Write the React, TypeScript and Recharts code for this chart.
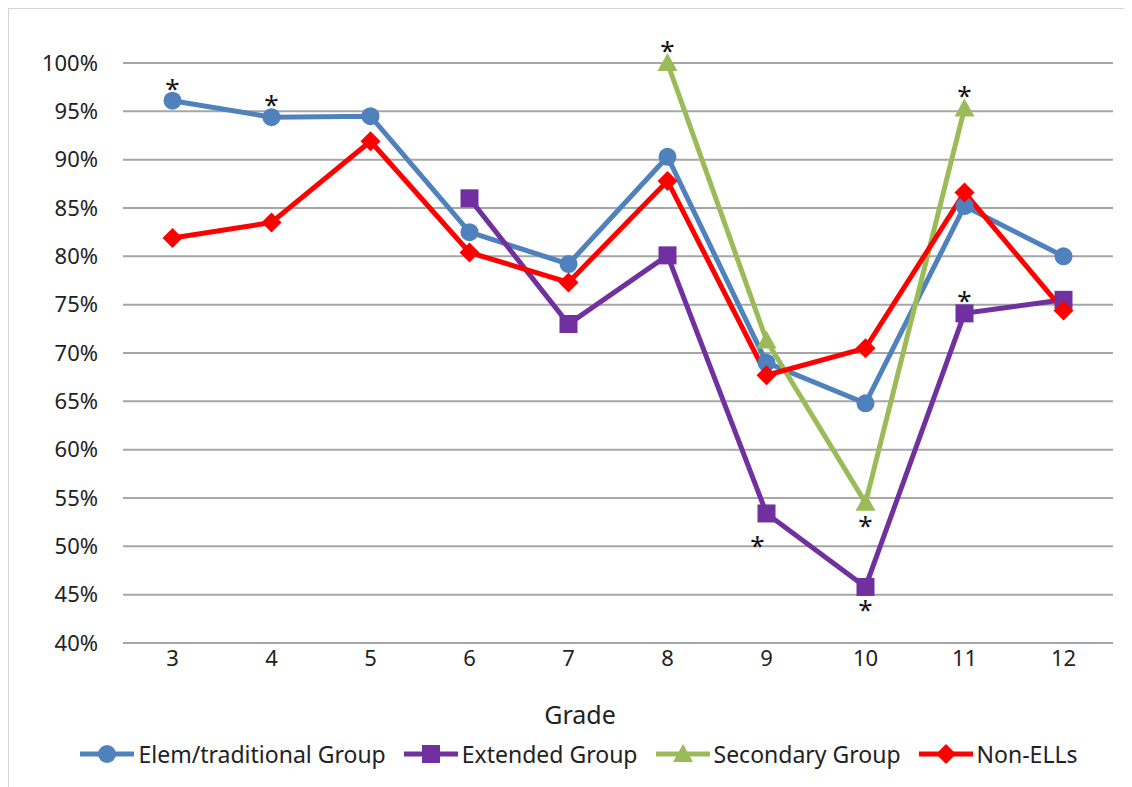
import React from "react";
import { CartesianGrid, Label, LabelList, Legend, Line, LineChart, XAxis, YAxis } from "recharts";

const grades = ["3", "4", "5", "6", "7", "8", "9", "10", "11", "12"];
const elemTraditional = [96.1, 94.4, 94.5, 82.5, 79.2, 90.3, 69.0, 64.8, 85.2, 80.0];
const extendedGroup = [null, null, null, 86.0, 73.0, 80.1, 53.4, 45.8, 74.1, 75.5];
const secondaryGroup = [null, null, null, null, null, 100, 71.3, 54.5, 95.3, null];
const nonEll = [81.9, 83.5, 91.9, 80.4, 77.3, 87.8, 67.7, 70.5, 86.6, 74.4];

// asterisk notes: "up" above the marker, "down" below, "downLeft" below and a bit left
const elemStars = ["up", "up", null, null, null, null, null, null, null, null];
const extendedStars = [null, null, null, null, null, null, "downLeft", "down", "up", null];
const secondaryStars = [null, null, null, null, null, "up", null, "down", "up", null];

const yTicks = [40, 45, 50, 55, 60, 65, 70, 75, 80, 85, 90, 95, 100];

const BLUE = "#4F81BD";
const PURPLE = "#7030A0";
const GREEN = "#9BBB59";
const RED = "#FF0000";
const FONT = "'Noto Sans', sans-serif";

const data = grades.map((grade, i) => ({
  grade,
  elem: elemTraditional[i],
  extended: extendedGroup[i],
  secondary: secondaryGroup[i],
  nonEll: nonEll[i],
  elemStar: elemStars[i],
  extendedStar: extendedStars[i],
  secondaryStar: secondaryStars[i],
}));

function Star(props: any) {
  const { x, y, value } = props;
  if (!value || x == null || y == null) return null;
  let dx = 0;
  let cy = y - 17;
  if (value === "down") cy = y + 18;
  if (value === "downLeft") {
    cy = y + 28;
    dx = -9;
  }
  return (
    <text x={x + dx} y={cy + 14} textAnchor="middle" fontSize={26} fontFamily={FONT} fill="#111">
      *
    </text>
  );
}

function Marker({ shape, cx, cy, color }: { shape: string; cx: number; cy: number; color: string }) {
  if (shape === "circle") return <circle cx={cx} cy={cy} r={9} fill={color} />;
  if (shape === "square") return <rect x={cx - 9} y={cy - 9} width={18} height={18} fill={color} />;
  if (shape === "triangle")
    return <polygon points={`${cx},${cy - 10} ${cx + 10},${cy + 8} ${cx - 10},${cy + 8}`} fill={color} />;
  return <polygon points={`${cx},${cy - 10} ${cx + 10},${cy} ${cx},${cy + 10} ${cx - 10},${cy}`} fill={color} />;
}

const makeDot = (shape: string, color: string) => (props: any) => {
  const { cx, cy, value, index } = props;
  if (value == null || cx == null || cy == null) return <g key={`d-${shape}-${index}`} />;
  return (
    <g key={`d-${shape}-${index}`}>
      <Marker shape={shape} cx={cx} cy={cy} color={color} />
    </g>
  );
};

const legendItems = [
  { label: "Elem/traditional Group", color: BLUE, shape: "circle" },
  { label: "Extended Group", color: PURPLE, shape: "square" },
  { label: "Secondary Group", color: GREEN, shape: "triangle" },
  { label: "Non-ELLs", color: RED, shape: "diamond" },
];

function ChartLegend() {
  return (
    <div style={{ height: 30, display: "flex", justifyContent: "center", alignItems: "center", gap: 18, paddingLeft: 22 }}>
      {legendItems.map((item) => (
        <div key={item.label} style={{ display: "flex", alignItems: "center" }}>
          <svg width={54} height={22}>
            <line x1={0} y1={11} x2={54} y2={11} stroke={item.color} strokeWidth={5} />
            <Marker shape={item.shape} cx={27} cy={11} color={item.color} />
          </svg>
          <span style={{ marginLeft: 4, fontSize: 23, fontFamily: FONT, color: "#222" }}>{item.label}</span>
        </div>
      ))}
    </div>
  );
}

export default function App() {
  return (
    <div style={{ width: 1140, height: 800, border: "1px solid #d4d4d4", boxSizing: "border-box", background: "#fff" }}>
      <LineChart width={1124} height={778} data={data} margin={{ top: 54, right: 20, bottom: 18, left: 14 }}>
        <CartesianGrid vertical={false} stroke="#a6a6a6" strokeWidth={2} />
        <XAxis
          dataKey="grade"
          axisLine={false}
          tickLine={false}
          tickSize={0}
          tickMargin={7}
          height={96}
          padding={{ left: 49.5, right: 49.5 }}
          tick={{ fontSize: 22, fontFamily: FONT, fill: "#222" }}
        >
          <Label value="Grade" position="insideTop" offset={63} dx={-38} style={{ fontSize: 25, fontFamily: FONT, fill: "#222" }} />
        </XAxis>
        <YAxis
          type="number"
          domain={[40, 100]}
          ticks={yTicks}
          interval={0}
          tickFormatter={(v: number) => `${v}%`}
          axisLine={false}
          tickLine={false}
          tickSize={0}
          tickMargin={25}
          width={100}
          tick={{ fontSize: 22, fontFamily: FONT, fill: "#222" }}
        />
        <Legend verticalAlign="bottom" height={30} content={() => <ChartLegend />} />
        <Line dataKey="elem" stroke={BLUE} strokeWidth={5} dot={makeDot("circle", BLUE)} activeDot={false} isAnimationActive={false}>
          <LabelList dataKey="elemStar" content={Star} />
        </Line>
        <Line dataKey="extended" stroke={PURPLE} strokeWidth={5} dot={makeDot("square", PURPLE)} activeDot={false} isAnimationActive={false}>
          <LabelList dataKey="extendedStar" content={Star} />
        </Line>
        <Line dataKey="secondary" stroke={GREEN} strokeWidth={5} dot={makeDot("triangle", GREEN)} activeDot={false} isAnimationActive={false}>
          <LabelList dataKey="secondaryStar" content={Star} />
        </Line>
        <Line dataKey="nonEll" stroke={RED} strokeWidth={5} dot={makeDot("diamond", RED)} activeDot={false} isAnimationActive={false} />
      </LineChart>
    </div>
  );
}
